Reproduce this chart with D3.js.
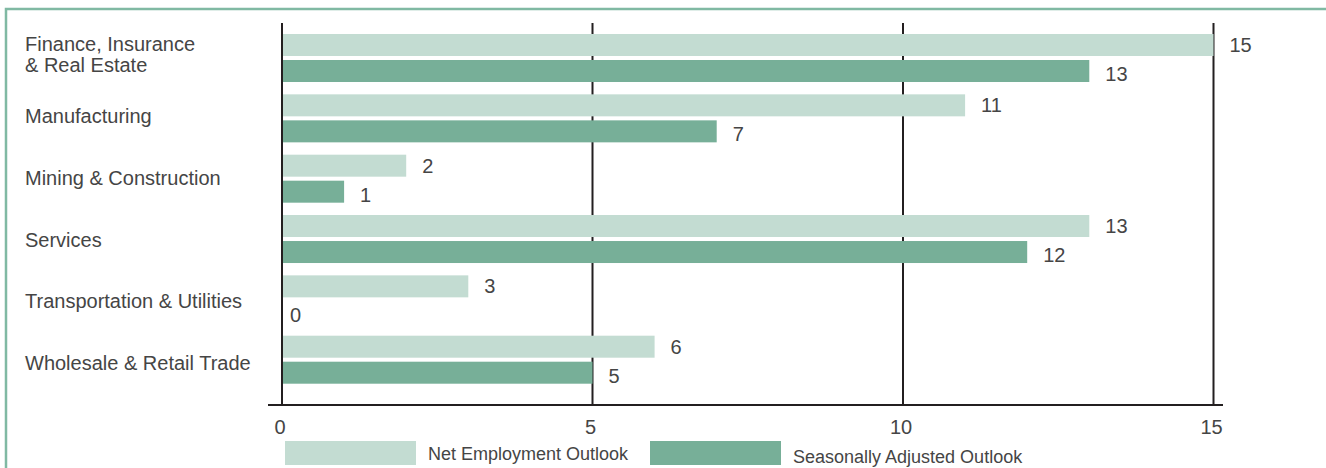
<!DOCTYPE html>
<html>
<head>
<meta charset="utf-8">
<script src="https://cdn.jsdelivr.net/npm/d3@7/dist/d3.min.js"></script>
<style>
  html, body { margin: 0; padding: 0; background: #fff; }
  svg { display: block; font-family: "Liberation Sans", Arial, Helvetica, sans-serif; }
</style>
</head>
<body>
<svg id="chart" width="1326" height="468"></svg>
<script>
// Employment outlook by industry sector
const categories = [
  ["Finance, Insurance", "& Real Estate"],
  ["Manufacturing"],
  ["Mining & Construction"],
  ["Services"],
  ["Transportation & Utilities"],
  ["Wholesale & Retail Trade"]
];
const netEmployment = [15, 11, 2, 13, 3, 6];
const seasonallyAdjusted = [13, 7, 1, 12, 0, 5];
const seriesNames = ["Net Employment Outlook", "Seasonally Adjusted Outlook"];
const seriesColors = ["#c3dcd2", "#77af98"];
const xTicks = [0, 5, 10, 15];

const textColor = "#454545";
const svg = d3.select("#chart");
const keys = categories.map(c => c.join(" "));

// Green frame open to the right and bottom
svg.append("rect")
  .attr("x", 6).attr("y", 9)
  .attr("width", 1400).attr("height", 500)
  .attr("fill", "none")
  .attr("stroke", "#80b9a3")
  .attr("stroke-width", 2.5);

const x = d3.scaleLinear().domain([0, 15]).range([282, 1213.5]);

const y = d3.scaleBand()
  .domain(keys)
  .range([34, 383.7])
  .paddingInner(0.2044)
  .paddingOuter(0);

const ySub = d3.scaleBand()
  .domain([0, 1])
  .range([0, y.bandwidth()])
  .paddingInner(0.154);

// Category labels are spaced slightly wider than the bar groups
const yLabel = d3.scalePoint().domain(keys).range([54.5, 363]);

const plotTop = 23, axisY = 405;

// Vertical gridlines
svg.append("g").selectAll("line")
  .data(xTicks)
  .join("line")
  .attr("x1", d => x(d)).attr("x2", d => x(d))
  .attr("y1", plotTop).attr("y2", axisY)
  .attr("stroke", "#231f20")
  .attr("stroke-width", 2);

// Baseline axis
svg.append("line")
  .attr("x1", 268).attr("x2", 1223)
  .attr("y1", axisY).attr("y2", axisY)
  .attr("stroke", "#231f20")
  .attr("stroke-width", 2);

// Tick labels
svg.append("g").selectAll("text")
  .data(xTicks)
  .join("text")
  .attr("x", d => x(d) - 2)
  .attr("y", 427)
  .attr("text-anchor", "middle")
  .attr("dominant-baseline", "central")
  .attr("font-size", 20)
  .attr("fill", textColor)
  .text(d => d);

// Bars
const rows = keys.map((k, i) => ({ key: k, values: [netEmployment[i], seasonallyAdjusted[i]] }));
const groups = svg.append("g").selectAll("g")
  .data(rows)
  .join("g")
  .attr("transform", d => `translate(0,${y(d.key)})`);

groups.selectAll("rect")
  .data(d => d.values.map((v, s) => ({ v, s })))
  .join("rect")
  .attr("x", x(0) + 1)
  .attr("y", d => ySub(d.s))
  .attr("width", d => Math.max(0, x(d.v) - x(0) - 1))
  .attr("height", ySub.bandwidth())
  .attr("fill", d => seriesColors[d.s]);

// Value labels
groups.selectAll("text")
  .data(d => d.values.map((v, s) => ({ v, s })))
  .join("text")
  .attr("x", d => x(d.v) + (d.v > 0 ? 16 : 8))
  .attr("y", d => ySub(d.s) + ySub.bandwidth() / 2 + (d.s === 1 ? 3 : 0))
  .attr("dominant-baseline", "central")
  .attr("font-size", 20)
  .attr("fill", textColor)
  .text(d => d.v);

// Category labels
const catG = svg.append("g").selectAll("text")
  .data(categories)
  .join("text")
  .attr("x", 25)
  .attr("font-size", 20)
  .attr("fill", textColor)
  .attr("dominant-baseline", "central");

catG.each(function(lines, i) {
  const cy = yLabel(keys[i]);
  const lh = 21.5;
  d3.select(this).selectAll("tspan")
    .data(lines)
    .join("tspan")
    .attr("x", 25)
    .attr("y", (d, j) => cy + (j - (lines.length - 1) / 2) * lh)
    .text(d => d);
});

// Legend
const legend = [
  { name: seriesNames[0], color: seriesColors[0], x: 285, ty: 453.5 },
  { name: seriesNames[1], color: seriesColors[1], x: 650, ty: 456.5 }
];
const lg = svg.append("g").selectAll("g").data(legend).join("g");
lg.append("rect")
  .attr("x", d => d.x).attr("y", 441)
  .attr("width", 131).attr("height", 24)
  .attr("fill", d => d.color);
lg.append("text")
  .attr("x", d => d.x + 143)
  .attr("y", d => d.ty)
  .attr("dominant-baseline", "central")
  .attr("font-size", 18)
  .attr("fill", textColor)
  .text(d => d.name);
</script>
</body>
</html>
